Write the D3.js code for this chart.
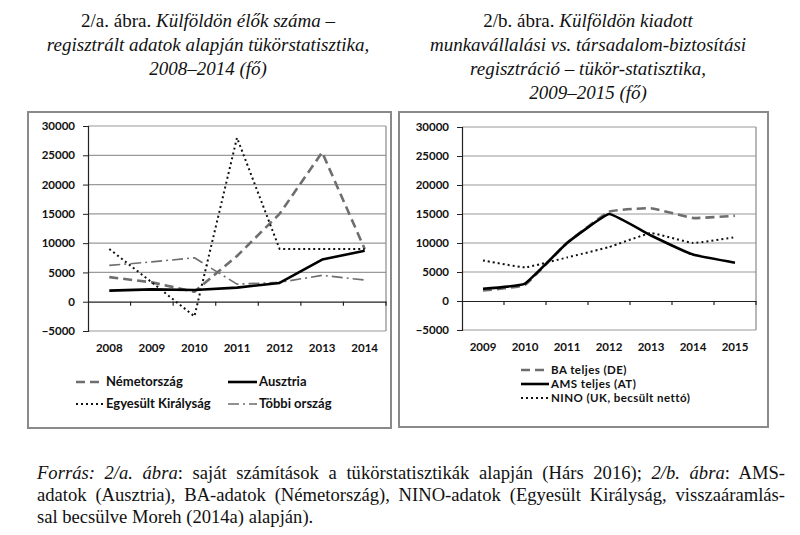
<!DOCTYPE html>
<html><head><meta charset="utf-8">
<script src="https://cdn.jsdelivr.net/npm/d3@7"></script>
<style>
html,body{margin:0;padding:0;background:#fff;}
svg{display:block;}
.tick-lbl{font-family:Lato, "Open Sans", sans-serif;font-weight:bold;font-size:11.5px;fill:#111;}
.leg{font-family:Lato, "Open Sans", sans-serif;font-weight:bold;font-size:13px;fill:#111;}
.leg2{font-family:Lato, "Open Sans", sans-serif;font-weight:bold;font-size:11.5px;letter-spacing:0.45px;fill:#111;}
.ttl{font-family:"Liberation Serif","DejaVu Serif",serif;font-size:19px;fill:#111;}
.foot{font-family:"Liberation Serif","DejaVu Serif",serif;font-size:18.6px;fill:#111;}
</style>
</head><body>
<svg id="c" width="800" height="535"></svg>
<script>
// ---- data ----
const yearsA = ["2008","2009","2010","2011","2012","2013","2014"];
const nemetorszag = [4200, 3300, 1700, 7800, 15000, 25500, 9000];
const ausztria = [1900, 2100, 2000, 2400, 3200, 7200, 8700];
const egyesultKiralysag = [9000, 3300, -2500, 28000, 9000, 9000, 9000];
const tobbiOrszag = [6200, 6800, 7500, 3000, 3300, 4500, 3700];

const yearsB = ["2009","2010","2011","2012","2013","2014","2015"];
const baTeljes = [1800, 2800, 10000, 15400, 16000, 14300, 14700];
const amsTeljes = [2100, 3000, 10000, 15000, 11300, 8000, 6600];
const nino = [7000, 5800, 7500, 9300, 11700, 10000, 11000];

const yTicks = [-5000, 0, 5000, 10000, 15000, 20000, 25000, 30000];

const svg = d3.select("#c");

const styles = {
  dash: {stroke:"#6e6e6e", width:2.6, dash:"9,5"},
  solid: {stroke:"#000", width:2.6, dash:null},
  dot: {stroke:"#111", width:2, dash:"2,3"},
  dashdot: {stroke:"#6e6e6e", width:1.6, dash:"11,4,2,4"}
};

function frame(x0,y0,x1,y1){
  svg.append("rect").attr("x",x0).attr("y",y0).attr("width",x1-x0).attr("height",y1-y0)
    .attr("fill","none").attr("stroke","#8a8a8a").attr("stroke-width",2);
}

function chart(cfg){
  const x = d3.scaleBand().domain(cfg.cats).range([cfg.x0,cfg.x1]).padding(0);
  const y = d3.scaleLinear().domain([-5000,30000]).range([cfg.yb,cfg.yt]);
  const g = svg.append("g");
  g.selectAll("line.grid").data(yTicks.filter(v=>v!==0)).enter().append("line")
    .attr("x1",cfg.x0).attr("x2",cfg.x1).attr("y1",d=>y(d)).attr("y2",d=>y(d))
    .attr("stroke","#9a9a9a").attr("stroke-width",1.2);
  g.append("line").attr("x1",cfg.x1).attr("x2",cfg.x1).attr("y1",y(30000)).attr("y2",y(-5000))
    .attr("stroke","#8a8a8a").attr("stroke-width",1.2);
  const ya = d3.axisLeft(y).tickValues(yTicks).tickSize(5).tickPadding(8).tickFormat(d3.format("d"));
  const yg = g.append("g").attr("transform",`translate(${cfg.x0},0)`).call(ya);
  yg.select(".domain").attr("stroke","#222").attr("stroke-width",1.2);
  yg.selectAll(".tick line").attr("stroke","#222");
  yg.selectAll("text").attr("class","tick-lbl").attr("font-size",null).attr("font-family",null);
  const xa = d3.axisBottom(x).tickSize(0).tickPadding(0);
  const xg = g.append("g").attr("transform",`translate(0,${y(0)})`).call(xa);
  xg.select(".domain").attr("stroke","#222").attr("stroke-width",1.2);
  xg.selectAll(".tick text").remove();
  const bounds = cfg.cats.map(c=>x(c)+x.bandwidth());
  g.selectAll("line.xt").data(bounds).enter().append("line")
    .attr("x1",d=>d).attr("x2",d=>d).attr("y1",y(0)).attr("y2",y(0)+4)
    .attr("stroke","#222").attr("stroke-width",1.2);
  g.selectAll("text.cat").data(cfg.cats).enter().append("text")
    .attr("class","tick-lbl").attr("x",d=>x(d)+x.bandwidth()/2).attr("y",cfg.labY)
    .attr("text-anchor","middle").text(d=>d);
  cfg.series.forEach(s=>{
    const st = styles[s.style];
    const line = d3.line().x((d,i)=>x(cfg.cats[i])+x.bandwidth()/2).y(d=>y(d)).curve(cfg.curve);
    g.append("path").datum(s.values).attr("d",line).attr("fill","none")
      .attr("stroke",st.stroke).attr("stroke-width",st.width)
      .attr("stroke-dasharray",st.dash).attr("stroke-linejoin","round");
  });
}

function legendItem(x0,x1,y,style,label,cls){
  const st = styles[style];
  svg.append("line").attr("x1",x0).attr("x2",x1).attr("y1",y).attr("y2",y)
    .attr("stroke",st.stroke).attr("stroke-width",st.width).attr("stroke-dasharray",st.dash);
  svg.append("text").attr("class",cls||"leg").attr("x",x1+2).attr("y",y+4.2).text(label);
}

frame(28,112,391,428);
frame(399,112,768,427);

chart({cats:yearsA,x0:88,x1:386,yt:126,yb:331,labY:352,curve:d3.curveLinear,
  series:[
    {values:nemetorszag,style:"dash"},
    {values:tobbiOrszag,style:"dashdot"},
    {values:egyesultKiralysag,style:"dot"},
    {values:ausztria,style:"solid"}
  ]});

chart({cats:yearsB,x0:462,x1:756,yt:127,yb:330,labY:351,curve:d3.curveCardinal.tension(0.7),
  series:[
    {values:nino,style:"dot"},
    {values:baTeljes,style:"dash"},
    {values:amsTeljes,style:"solid"}
  ]});

legendItem(76,104,382,"dash","Németország");
legendItem(228,257,382,"solid","Ausztria");
legendItem(76,104,404,"dot","Egyesült Királyság");
legendItem(228,257,404,"dashdot","Többi ország");

legendItem(521,549,370,"dash","BA teljes (DE)","leg2");
legendItem(521,549,384,"solid","AMS teljes (AT)","leg2");
legendItem(521,549,398,"dot","NINO (UK, becsült nettó)","leg2");

function titleLine(cx,y,parts){
  const t = svg.append("text").attr("class","ttl").attr("x",cx).attr("y",y).attr("text-anchor","middle");
  parts.forEach(p=>t.append("tspan").attr("font-style",p[1]?"italic":"normal").text(p[0]));
}
titleLine(208,27,[["2/a. ábra. ",false],["Külföldön élők száma –",true]]);
titleLine(208,51,[["regisztrált adatok alapján tükörstatisztika,",true]]);
titleLine(208,75,[["2008–2014 (fő)",true]]);
titleLine(588,27,[["2/b. ábra. ",false],["Külföldön kiadott",true]]);
titleLine(588,51,[["munkavállalási vs. társadalom-biztosítási",true]]);
titleLine(588,75,[["regisztráció – tükör-statisztika,",true]]);
titleLine(588,99,[["2009–2015 (fő)",true]]);

function footLine(y,parts,justify){
  const t = svg.append("text").attr("class","foot").attr("x",37).attr("y",y);
  parts.forEach(p=>t.append("tspan").attr("font-style",p[1]?"italic":"normal").text(p[0]));
  if(justify){
    const w = t.node().getComputedTextLength();
    const full = parts.map(p=>p[0]).join("");
    const spaces = (full.match(/ /g)||[]).length;
    if(spaces>0) t.attr("word-spacing",((785-37)-w)/spaces);
  }
}
footLine(479,[["Forrás: 2/a. ábra",true],[": saját számítások a tükörstatisztikák alapján (Hárs 2016); ",false],["2/b. ábra",true],[": AMS-",false]],true);
footLine(501,[["adatok (Ausztria), BA-adatok (Németország), NINO-adatok (Egyesült Királyság, visszaáramlás-",false]],true);
footLine(523,[["sal becsülve Moreh (2014a) alapján).",false]],false);
</script>
</body></html>
